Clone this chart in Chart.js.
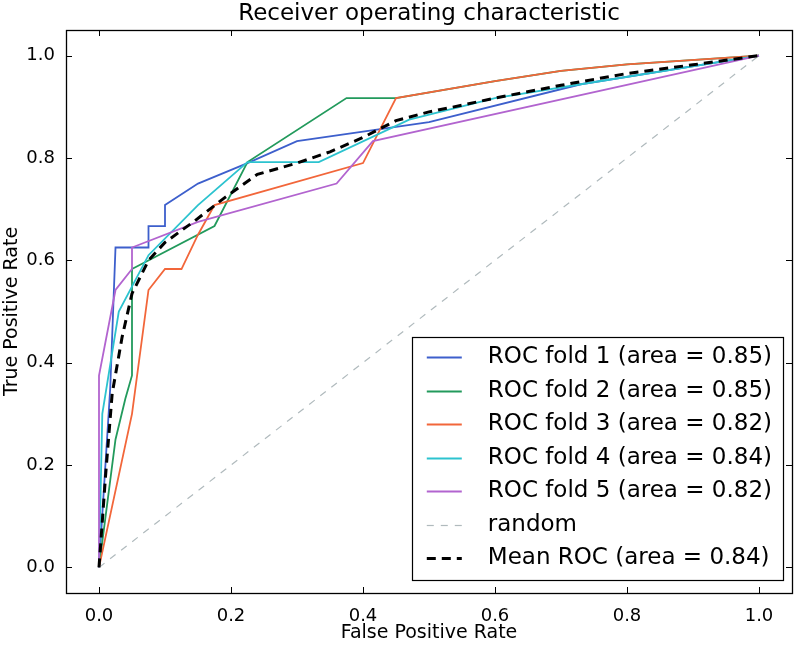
<!DOCTYPE html>
<html>
<head>
<meta charset="utf-8">
<title>Receiver operating characteristic</title>
<script src="https://cdn.jsdelivr.net/npm/chart.js"></script>
<style>
  html, body { margin: 0; padding: 0; background: #fff; }
  #wrap { width: 800px; height: 647px; }
</style>
</head>
<body>
<div id="wrap"><canvas id="rocChart"></canvas></div>
<script>
  // points: [false positive rate, true positive rate]
  const fold1 = [[0, 0], [0.017, 0.35], [0.025, 0.625], [0.075, 0.625], [0.075, 0.667], [0.1, 0.667], [0.1, 0.708], [0.15, 0.75], [0.225, 0.79], [0.3, 0.833], [0.5, 0.87], [0.73, 0.944], [1, 1]];
  const fold2 = [[0, 0], [0.025, 0.25], [0.04, 0.33], [0.05, 0.375], [0.05, 0.583], [0.175, 0.667], [0.225, 0.792], [0.375, 0.917], [0.45, 0.917], [0.6, 0.95], [0.7, 0.97], [0.8, 0.983], [1, 1]];
  const fold3 = [[0, 0], [0.05, 0.3], [0.075, 0.542], [0.1, 0.583], [0.125, 0.583], [0.15, 0.65], [0.175, 0.708], [0.4, 0.79], [0.45, 0.917], [0.6, 0.95], [0.7, 0.97], [0.8, 0.983], [1, 1]];
  const fold4 = [[0, 0], [0.005, 0.3], [0.03, 0.5], [0.075, 0.61], [0.15, 0.708], [0.225, 0.792], [0.333, 0.792], [0.47, 0.875], [0.6, 0.917], [0.73, 0.944], [1, 1]];
  const fold5 = [[0, 0], [0, 0.375], [0.025, 0.542], [0.05, 0.583], [0.05, 0.625], [0.15, 0.675], [0.36, 0.75], [0.415, 0.833], [1, 1]];
  const randomLine = [[0, 0], [1, 1]];
  const meanRoc = [[0, 0], [0.01, 0.18], [0.02, 0.34], [0.035, 0.45], [0.05, 0.535], [0.075, 0.6], [0.1, 0.635], [0.145, 0.677], [0.19, 0.722], [0.24, 0.768], [0.3, 0.79], [0.35, 0.812], [0.4, 0.84], [0.45, 0.873], [0.5, 0.89], [0.55, 0.903], [0.6, 0.917], [0.7, 0.942], [0.8, 0.965], [0.9, 0.982], [1, 1]];

  const seriesLabels = [
    "ROC fold 1 (area = 0.85)",
    "ROC fold 2 (area = 0.85)",
    "ROC fold 3 (area = 0.82)",
    "ROC fold 4 (area = 0.84)",
    "ROC fold 5 (area = 0.82)",
    "random",
    "Mean ROC (area = 0.84)",
  ];
  const axisTicks = [0, 0.2, 0.4, 0.6, 0.8, 1.0];

  const toXY = (pts) => pts.map((p) => ({ x: p[0], y: p[1] }));

  Chart.defaults.font.family = "'DejaVu Sans', sans-serif";
  Chart.defaults.color = "#000";

  // axes box with inward ticks on all four sides, like the original
  const axesFrame = {
    id: "axesFrame",
    afterDatasetsDraw(chart) {
      const { ctx, chartArea: a, scales } = chart;
      const len = 6;
      ctx.save();
      ctx.strokeStyle = "#000";
      ctx.lineWidth = 1;
      ctx.beginPath();
      axisTicks.forEach((v) => {
        const px = Math.round(scales.x.getPixelForValue(v)) + 0.5;
        ctx.moveTo(px, a.bottom); ctx.lineTo(px, a.bottom - len);
        ctx.moveTo(px, a.top); ctx.lineTo(px, a.top + len);
        const py = Math.round(scales.y.getPixelForValue(v)) + 0.5;
        ctx.moveTo(a.left, py); ctx.lineTo(a.left + len, py);
        ctx.moveTo(a.right, py); ctx.lineTo(a.right - len, py);
      });
      ctx.stroke();
      ctx.lineWidth = 1.3;
      ctx.strokeRect(Math.round(a.left) + 0.5, Math.round(a.top) + 0.5,
        Math.round(a.right - a.left), Math.round(a.bottom - a.top));
      ctx.restore();
    },
  };

  // legend box in the lower right corner of the axes
  const rocLegend = {
    id: "rocLegend",
    afterDraw(chart) {
      const { ctx, chartArea: a } = chart;
      const sets = chart.data.datasets;
      const rowH = 33.5;
      ctx.save();
      ctx.font = "23px 'DejaVu Sans'";
      const textW = Math.max(...sets.map((d) => ctx.measureText(d.label).width));
      const w = 15 + 35 + 26 + textW + 11;
      const h = 20 + rowH * (sets.length - 1) + 22;
      const right = a.right - 9;
      const bottom = a.bottom - 13;
      const left = right - w;
      const top = bottom - h;
      ctx.fillStyle = "#fff";
      ctx.fillRect(left, top, w, h);
      ctx.strokeStyle = "#000";
      ctx.lineWidth = 1.2;
      ctx.strokeRect(Math.round(left) + 0.5, Math.round(top) + 0.5, Math.round(w), Math.round(h));
      sets.forEach((d, i) => {
        const y = Math.round(top + 20 + i * rowH) + 0.5;
        ctx.beginPath();
        ctx.setLineDash(d.borderDash || []);
        ctx.strokeStyle = d.borderColor;
        ctx.lineWidth = d.borderWidth;
        ctx.moveTo(left + 15, y);
        ctx.lineTo(left + 50, y);
        ctx.stroke();
        ctx.setLineDash([]);
        ctx.fillStyle = "#000";
        ctx.textBaseline = "middle";
        ctx.fillText(d.label, left + 76, y);
      });
      ctx.restore();
    },
  };

  const colors = ["#3d5fcc", "#229a5c", "#f2663a", "#2cc3cf", "#b264cf", "#b0babd", "#000000"];
  const seriesData = [fold1, fold2, fold3, fold4, fold5, randomLine, meanRoc];

  const datasets = seriesData.map((pts, i) => ({
    label: seriesLabels[i],
    data: toXY(pts),
    showLine: true,
    borderColor: colors[i],
    backgroundColor: colors[i],
    borderWidth: i === 6 ? 3 : (i === 5 ? 1.2 : 1.8),
    borderDash: i === 6 ? [9, 6] : (i === 5 ? [7, 7] : []),
    pointRadius: 0,
    tension: 0,
    order: 6 - i,
  }));

  new Chart(document.getElementById("rocChart"), {
    type: "scatter",
    data: { datasets: datasets },
    options: {
      responsive: true,
      maintainAspectRatio: false,
      animation: false,
      devicePixelRatio: 1,
      layout: { padding: { right: 8 } },
      plugins: {
        legend: { display: false },
        tooltip: { enabled: false },
        title: {
          display: true,
          text: "Receiver operating characteristic",
          fullSize: false,
          font: { size: 23, weight: "normal", lineHeight: 1.2 },
          padding: { top: 0.5, bottom: 1.9 },
        },
      },
      scales: {
        x: {
          type: "linear",
          min: -0.05,
          max: 1.05,
          grid: { display: false },
          border: { display: false },
          afterBuildTicks: (axis) => { axis.ticks = axisTicks.map((v) => ({ value: v })); },
          afterFit: (axis) => { axis.height = 54; },
          ticks: { font: { size: 18 }, padding: 5, maxRotation: 0, callback: (v) => v.toFixed(1) },
          title: { display: true, text: "False Positive Rate", font: { size: 19 }, padding: { top: 0, bottom: 3 } },
        },
        y: {
          type: "linear",
          min: -0.05,
          max: 1.05,
          grid: { display: false },
          border: { display: false },
          afterBuildTicks: (axis) => { axis.ticks = axisTicks.map((v) => ({ value: v })); },
          afterFit: (axis) => { axis.width = 66; },
          ticks: { font: { size: 18 }, padding: 3, callback: (v) => v.toFixed(1) },
          title: { display: true, text: "True Positive Rate", font: { size: 19 }, padding: { top: 1, bottom: 0 } },
        },
      },
    },
    plugins: [axesFrame, rocLegend],
  });
</script>
</body>
</html>
